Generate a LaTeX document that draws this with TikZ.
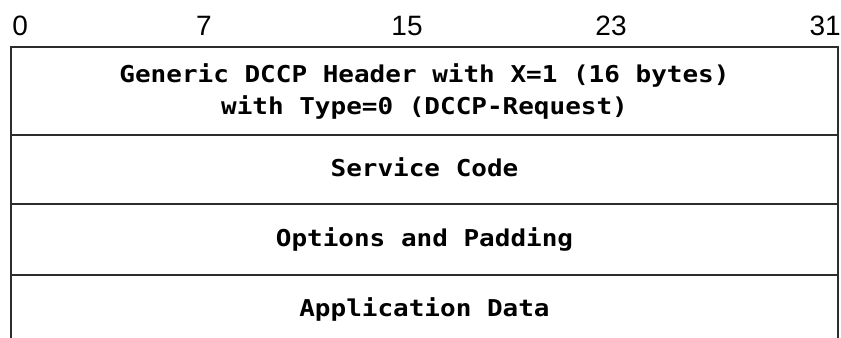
\documentclass[tikz,border=0pt]{standalone}
\usepackage{fontspec}
\setmainfont{Liberation Sans}
\newfontfamily\pktfont[FakeStretch=1.12]{DejaVu Sans Mono}
\usepackage{tikz}
\definecolor{pktgray}{RGB}{45,45,45}
\newcommand{\boxL}{11}
\newcommand{\boxR}{838}
\newcommand{\boxT}{47}
\newcommand{\boxB}{338}
\newcommand{\midX}{424.5}
\tikzset{
  bitlab/.style ={inner sep=0pt,anchor=base,font=\fontsize{21}{24}\selectfont},
  fldtxt/.style ={inner sep=0pt,anchor=base,font=\pktfont\bfseries\fontsize{17.4}{20}\selectfont},
  pktline/.style={draw=pktgray,line width=1.4pt},
}

\begin{document}
\begin{tikzpicture}[x=0.75pt,y=-0.75pt]
  \useasboundingbox (0,0) rectangle (841,338);
  % bit positions
  \node[bitlab,anchor=base west] (b0) at (12,36) {0};
  \node[bitlab] (b7)  at (204,36) {7};
  \node[bitlab] (b15) at (407,36) {15};
  \node[bitlab] (b23) at (611,36) {23};
  \node[bitlab,anchor=base east] (b31) at (841,36) {31};
  % frame, open at the bottom
  \draw[pktline] (\boxL,\boxB+2) |- (\boxR,\boxT) -- (\boxR,\boxB+2);
  \foreach \y in {135,204,275}
    \draw[pktline] (\boxL,\y) -- (\boxR,\y);
  % fields
  \node[fldtxt] (hdr1) at (\midX,83)  {Generic DCCP Header with X=1 (16 bytes)};
  \node[fldtxt] (hdr2) at (\midX,115) {with Type=0 (DCCP-Request)};
  \node[fldtxt] (svc)  at (\midX,177) {Service Code};
  \node[fldtxt] (opt)  at (\midX,246) {Options and Padding};
  \node[fldtxt] (app)  at (\midX,316) {Application Data};
\end{tikzpicture}
\end{document}
